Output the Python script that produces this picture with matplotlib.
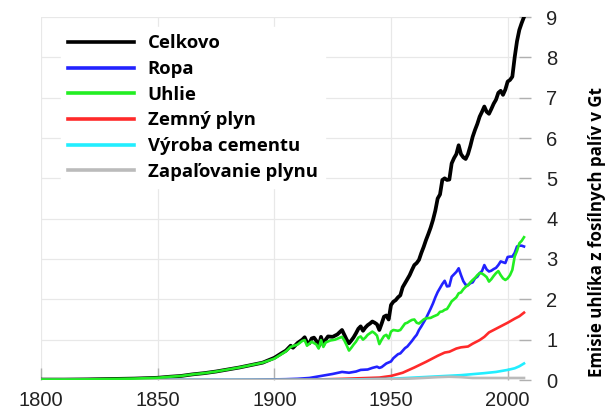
import matplotlib
matplotlib.use("Agg")
import matplotlib.pyplot as plt

# Emisie uhlíka z fosílnych palív (Gt C), odčítané z obrázka
years_total = [1800, 1810, 1820, 1830, 1840, 1850, 1855, 1860, 1865, 1870, 1875, 1880, 1885, 1890,
               1895, 1900, 1903, 1905, 1907, 1908, 1910, 1912, 1913, 1914, 1915, 1916, 1917, 1918,
               1919, 1920, 1921, 1922, 1923, 1925, 1927, 1929, 1930, 1931, 1932, 1933, 1934, 1935,
               1936, 1937, 1938, 1939, 1940, 1941, 1942, 1943, 1944, 1945, 1946, 1947, 1948, 1949,
               1950, 1951, 1952, 1953, 1954, 1955, 1956, 1957, 1958, 1959, 1960, 1961, 1962, 1963,
               1964, 1965, 1966, 1967, 1968, 1969, 1970, 1971, 1972, 1973, 1974, 1975, 1976, 1977,
               1978, 1979, 1980, 1981, 1982, 1983, 1984, 1985, 1986, 1987, 1988, 1989, 1990, 1991,
               1992, 1993, 1994, 1995, 1996, 1997, 1998, 1999, 2000, 2001, 2002, 2003, 2004, 2005,
               2006, 2007]
total = [0.01, 0.01, 0.015, 0.025, 0.035, 0.055, 0.08, 0.1, 0.14, 0.17, 0.21, 0.26, 0.31, 0.37,
         0.43, 0.55, 0.66, 0.73, 0.85, 0.80, 0.92, 1.0, 1.06, 0.93, 0.91, 1.03, 1.05, 0.97,
         0.83, 1.07, 0.87, 1.0, 1.08, 1.07, 1.13, 1.24, 1.12, 1.0, 0.91, 0.98, 1.06, 1.16,
         1.27, 1.33, 1.22, 1.3, 1.36, 1.4, 1.45, 1.42, 1.38, 1.24, 1.4, 1.57, 1.6, 1.5,
         1.86, 1.94, 1.98, 2.05, 2.1, 2.3, 2.4, 2.5, 2.6, 2.73, 2.85, 2.9, 2.98, 3.15,
         3.3, 3.47, 3.62, 3.78, 3.97, 4.2, 4.5, 4.6, 4.96, 5.0, 4.96, 4.97, 5.37, 5.5,
         5.6, 5.82, 5.6, 5.52, 5.48, 5.6, 5.8, 6.03, 6.2, 6.35, 6.53, 6.65, 6.78, 6.65,
         6.6, 6.72, 6.85, 6.95, 7.12, 7.17, 7.07, 7.2, 7.4, 7.44, 7.52, 8.0, 8.4, 8.68,
         8.85, 9.0]

years_coal = [1800, 1810, 1820, 1830, 1840, 1850, 1855, 1860, 1865, 1870, 1875, 1880, 1885, 1890,
              1895, 1900, 1905, 1907, 1910, 1912, 1913, 1914, 1916, 1918, 1919, 1920, 1921, 1922,
              1924, 1926, 1929, 1930, 1931, 1932, 1933, 1934, 1935, 1936, 1937, 1938, 1939, 1940,
              1942, 1943, 1944, 1945, 1946, 1947, 1948, 1949, 1950, 1951, 1953, 1954, 1956, 1957,
              1958, 1959, 1960, 1961, 1962, 1963, 1964, 1965, 1967, 1968, 1970, 1971, 1972, 1973,
              1974, 1975, 1976, 1977, 1978, 1979, 1980, 1981, 1982, 1983, 1984, 1985, 1986, 1987,
              1988, 1989, 1990, 1991, 1992, 1993, 1994, 1995, 1996, 1997, 1998, 1999, 2000, 2001,
              2002, 2003, 2004, 2005, 2006, 2007]
coal = [0.01, 0.01, 0.015, 0.025, 0.035, 0.055, 0.08, 0.1, 0.14, 0.17, 0.21, 0.26, 0.31, 0.37,
        0.43, 0.53, 0.71, 0.82, 0.88, 0.97, 0.99, 0.85, 0.95, 0.88, 0.78, 0.99, 0.82, 0.93,
        0.98, 1.0, 1.07, 0.98, 0.86, 0.73, 0.8, 0.88, 0.95, 1.05, 1.08, 1.0, 1.05, 1.12,
        1.2, 1.16, 1.1, 0.89, 1.0, 1.09, 1.12, 1.03, 1.2, 1.24, 1.22, 1.24, 1.4, 1.42,
        1.46, 1.49, 1.5, 1.42, 1.4, 1.45, 1.5, 1.53, 1.54, 1.57, 1.62, 1.69, 1.7, 1.74,
        1.76, 1.85, 1.95, 2.0, 2.05, 2.15, 2.17, 2.25, 2.31, 2.35, 2.42, 2.48, 2.53, 2.6,
        2.65, 2.64, 2.6, 2.55, 2.44, 2.5, 2.58, 2.65, 2.7, 2.6, 2.52, 2.48, 2.52, 2.6,
        2.73, 3.06, 3.2, 3.39, 3.45, 3.54]

years_oil = [1800, 1870, 1880, 1890, 1900, 1905, 1910, 1915, 1920, 1925, 1929, 1932, 1935, 1937,
             1940, 1942, 1944, 1945, 1946, 1948, 1950, 1951, 1953, 1954, 1956, 1957, 1959, 1960,
             1961, 1962, 1963, 1964, 1965, 1966, 1967, 1968, 1969, 1970, 1971, 1972, 1973, 1974,
             1975, 1976, 1977, 1978, 1979, 1980, 1981, 1982, 1983, 1984, 1985, 1986, 1987, 1988,
             1989, 1990, 1991, 1992, 1993, 1994, 1995, 1996, 1997, 1998, 1999, 2000, 2001, 2002,
             2003, 2004, 2005, 2006, 2007]
oil = [0.0, 0.0, 0.002, 0.005, 0.015, 0.02, 0.03, 0.05, 0.1, 0.15, 0.2, 0.18, 0.21, 0.25,
       0.26, 0.3, 0.33, 0.3, 0.32, 0.41, 0.46, 0.54, 0.64, 0.66, 0.79, 0.83, 0.97, 1.05,
       1.12, 1.24, 1.33, 1.43, 1.53, 1.65, 1.77, 1.9, 2.05, 2.18, 2.28, 2.38, 2.46, 2.32,
       2.33, 2.56, 2.62, 2.68, 2.77, 2.6, 2.45, 2.36, 2.35, 2.4, 2.42, 2.52, 2.56, 2.65,
       2.7, 2.85, 2.74, 2.69, 2.71, 2.75, 2.78, 2.85, 2.94, 2.92, 2.9, 3.05, 3.06, 3.06,
       3.15, 3.31, 3.33, 3.33, 3.31]

years_gas = [1800, 1880, 1900, 1910, 1920, 1930, 1940, 1945, 1950, 1955, 1960, 1965, 1970, 1973,
             1975, 1978, 1980, 1983, 1985, 1988, 1990, 1992, 1995, 1997, 2000, 2003, 2005, 2007]
gas = [0.0, 0.0, 0.005, 0.01, 0.015, 0.03, 0.05, 0.06, 0.1, 0.18, 0.31, 0.45, 0.6, 0.68,
       0.7, 0.78, 0.81, 0.83, 0.9, 0.99, 1.07, 1.18, 1.27, 1.33, 1.42, 1.52, 1.58, 1.67]

years_cement = [1800, 1920, 1930, 1940, 1950, 1960, 1970, 1980, 1990, 1995, 2000, 2003, 2005, 2007]
cement = [0.0, 0.005, 0.01, 0.02, 0.03, 0.06, 0.09, 0.12, 0.17, 0.2, 0.25, 0.29, 0.34, 0.41]

years_flaring = [1800, 1920, 1940, 1950, 1960, 1970, 1975, 1980, 1985, 1990, 2000, 2007]
flaring = [0.0, 0.0, 0.01, 0.02, 0.04, 0.07, 0.08, 0.07, 0.05, 0.05, 0.05, 0.05]

x_ticks = [1800, 1850, 1900, 1950, 2000]
y_ticks = list(range(0, 10))

fig = plt.figure(figsize=(6.08, 4.16), dpi=100)
ax = fig.add_axes([41 / 608, 1 - 380 / 416, (531 - 41) / 608, (380 - 17) / 416])

ax.plot(years_total, total, color="black", lw=2.7, label="Celkovo", zorder=3)
ax.plot(years_oil, oil, color="#2222ff", lw=1.9, label="Ropa", zorder=4)
ax.plot(years_coal, coal, color="#22ee22", lw=1.9, label="Uhlie", zorder=5)
ax.plot(years_gas, gas, color="#ff2a2a", lw=1.9, label="Zemný plyn", zorder=4)
ax.plot(years_cement, cement, color="#22eeff", lw=1.9, label="Výroba cementu", zorder=4)
ax.plot(years_flaring, flaring, color="#bbbbbb", lw=1.9, label="Zapaľovanie plynu", zorder=4)

ax.set_xlim(1800, 2010)
ax.set_ylim(0, 9)
ax.set_xticks(x_ticks)
ax.set_yticks(y_ticks)
ax.grid(True, color="#e8e8e8", lw=0.9)
ax.set_axisbelow(True)
for s in ax.spines.values():
    s.set_visible(False)

ax.yaxis.tick_right()
ax.yaxis.set_label_position("right")
ax.tick_params(axis="both", direction="in", length=9, width=1, color="#b0b0b0",
               labelsize=14.5, labelcolor="#222222")
ax.tick_params(axis="y", pad=11)
ax.tick_params(axis="x", pad=8)
for lbl in ax.get_xticklabels() + ax.get_yticklabels():
    lbl.set_family("Liberation Sans")

ax.set_ylabel("Emisie uhlíka z fosílnych palív v Gt", fontsize=12.2, fontweight="bold",
              family="Open Sans")
ax.yaxis.set_label_coords((597 - 41) / 490, (380 - 232) / 363)
ax.yaxis.label.set_verticalalignment("center")

leg = ax.legend(loc="upper left", bbox_to_anchor=(0.022, 0.998), frameon=True,
                prop={"family": "Open Sans", "weight": "bold", "size": 13.3},
                handlelength=3.55, handletextpad=0.75, labelspacing=0.415,
                borderpad=0.4, fancybox=False)
leg.get_frame().set_edgecolor("white")
leg.get_frame().set_alpha(1)
for h in leg.get_lines():
    h.set_linewidth(2.6)

fig.savefig("out.png", dpi=100)
